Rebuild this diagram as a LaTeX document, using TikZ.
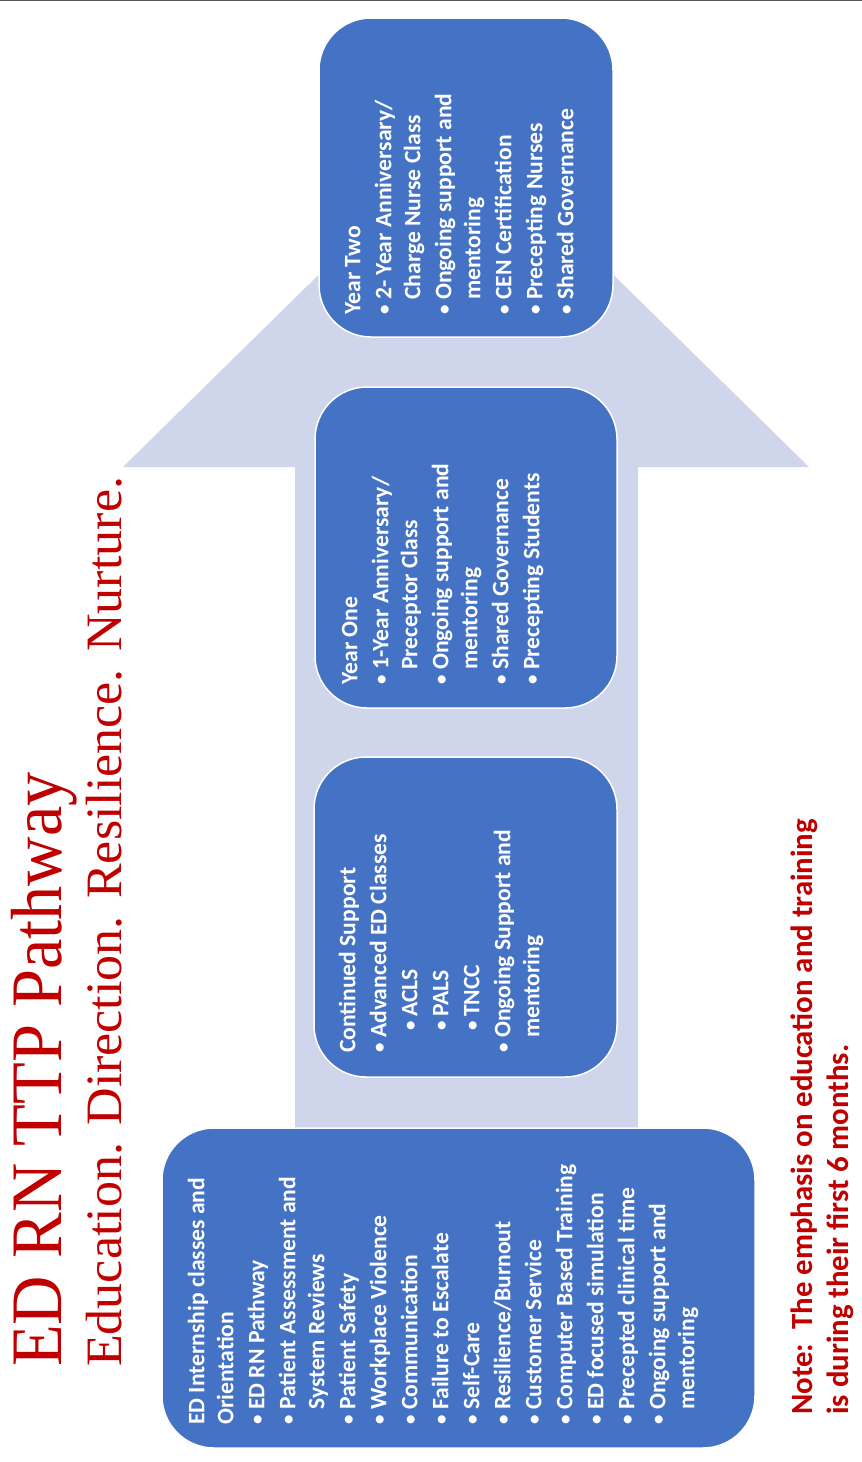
\documentclass[tikz,border=0pt]{standalone}
\usepackage{fontspec}
\setmainfont{Liberation Serif}
\newfontfamily\bodyfont{Carlito}

\definecolor{titlered}{HTML}{C00000}
\definecolor{pathblue}{HTML}{4472C4}
\definecolor{arrowfill}{HTML}{CFD5EA}

% list helpers for the stage boxes
\newcommand{\dotmark}{\raisebox{0.06em}{\scalebox{0.8}{\textbullet}}}
\newcommand{\itm}{\makebox[15pt][l]{\hspace{0.75pt}\dotmark}}
\newcommand{\cnt}{\hspace*{15pt}}
\newcommand{\subitm}{\hspace*{22.75pt}\makebox[13.25pt][l]{\dotmark}}
\newcommand{\firstline}{\rule{0pt}{0.8em}}

\tikzset{
  stage/.style={draw=white, line width=1.5pt, fill=pathblue, rounded corners=52pt},
  stagetext/.style={rotate=90, anchor=north west, inner sep=0pt, align=left,
    text=white, font=\bodyfont\bfseries\fontsize{23.6}{29}\selectfont},
  rotlabel/.style={rotate=90, inner sep=0pt, text=titlered},
}

\begin{document}
\begin{tikzpicture}[x=1pt,y=-1pt]
\useasboundingbox (0,0) rectangle (862,1462);

% thin rule along the top edge
\draw[line width=1pt, black!65] (0,0.5) -- (862,0.5);

% the upward arrow behind the stages
\fill[arrowfill] (295,1140) -- (295,467) -- (123,467) -- (466,130)
  -- (809,467) -- (638,467) -- (638,1140) -- cycle;

% stage boxes
\draw[stage] (162,1128) rectangle (755,1448);
\draw[stage] (314,757) rectangle (617,1077);
\draw[stage] (315,387) rectangle (617,708);
\draw[stage] (319,18) rectangle (613,337);

% stage contents
\node[stagetext] (s1) at (185.4,1425) {\firstline ED Internship classes and\\
  Orientation\\[2pt]
  \itm ED RN Pathway\\[2pt]
  \itm Patient Assessment and\\
  \cnt System Reviews\\[2pt]
  \itm Patient Safety\\[2pt]
  \itm Workplace Violence\\[2pt]
  \itm Communication\\[2pt]
  \itm Failure to Escalate\\[2pt]
  \itm Self-Care\\[2pt]
  \itm Resilience/Burnout\\[2pt]
  \itm Customer Service\\[2pt]
  \itm Computer Based Training\\[2pt]
  \itm ED focused simulation\\[2pt]
  \itm Precepted clinical time\\[2pt]
  \itm Ongoing support and\\
  \cnt mentoring};

\node[stagetext] (s2) at (336.4,1053) {\firstline Continued Support\\[2pt]
  \itm Advanced ED Classes\\[2pt]
  \subitm ACLS\\[2pt]
  \subitm PALS\\[2pt]
  \subitm TNCC\\[2pt]
  \itm Ongoing Support and\\
  \cnt mentoring};

\node[stagetext] (s3) at (338.4,685) {\firstline Year One\\[2pt]
  \itm 1-Year Anniversary/\\
  \cnt Preceptor Class\\[2pt]
  \itm Ongoing support and\\
  \cnt mentoring\\[2pt]
  \itm Shared Governance\\[2pt]
  \itm Precepting Students};

\node[stagetext] (s4) at (341.4,315) {\firstline Year Two\\[2pt]
  \itm 2- Year Anniversary/\\
  \cnt Charge Nurse Class\\[2pt]
  \itm Ongoing support and\\
  \cnt mentoring\\[2pt]
  \itm CEN Certification\\[2pt]
  \itm Precepting Nurses\\[2pt]
  \itm Shared Governance};

% title and motto
\node[rotlabel, anchor=base west, font=\fontsize{72.5}{80}\selectfont] (title)
  at (61,1367) {\scalebox{0.943}[1]{ED RN TTP Pathway}};
\node[rotlabel, anchor=base west, font=\fontsize{51}{56}\selectfont] (motto)
  at (121,1367) {\scalebox{1.02}[1]{Education. Direction. Resilience. Nurture.}};

% closing note
\node[rotlabel, anchor=north west, align=left,
  font=\bodyfont\bfseries\fontsize{30.8}{36}\selectfont] (note)
  at (787.6,1415) {\firstline Note:\ \ The emphasis on education and training\\
  is during their first 6 months.};
\end{tikzpicture}
\end{document}
